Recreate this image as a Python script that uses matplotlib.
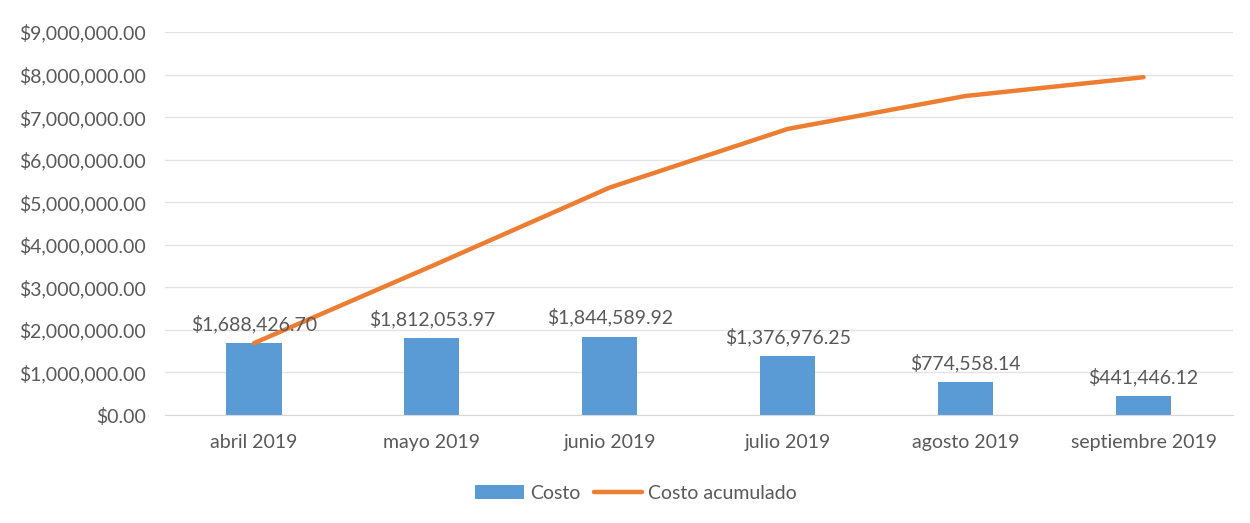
import matplotlib.pyplot as plt
from matplotlib.ticker import FuncFormatter

meses = ["abril 2019", "mayo 2019", "junio 2019", "julio 2019",
         "agosto 2019", "septiembre 2019"]
costo = [1688426.70, 1812053.97, 1844589.92, 1376976.25, 774558.14, 441446.12]
costo_acumulado = [1688426.70, 3500480.67, 5345070.59, 6722046.84,
                   7496604.98, 7938051.10]

plt.rcParams['font.family'] = ['Lato', 'DejaVu Sans']
gris = '#595959'

fig = plt.figure(figsize=(12.5, 5.23), dpi=100)
ax = fig.add_axes([0.132, 0.2065, 0.854, 0.7323])

x = list(range(len(meses)))
barras = ax.bar(x, costo, width=0.31, color='#5B9BD5', label='Costo', zorder=2)
linea, = ax.plot(x, costo_acumulado, color='#ED7D31', linewidth=3.2,
                 label='Costo acumulado', zorder=3, solid_capstyle='round')

for xi, v in zip(x, costo):
    ax.annotate("${:,.2f}".format(v), (xi, v), xytext=(0, 7),
                textcoords='offset points', ha='center', va='bottom',
                fontsize=14, color=gris)

ax.set_xlim(-0.5, len(meses) - 0.5)
ax.set_ylim(0, 9000000)
ax.set_yticks(range(0, 9000001, 1000000))
ax.yaxis.set_major_formatter(FuncFormatter(lambda v, p: "${:,.2f}".format(v)))
ax.set_xticks(x)
ax.set_xticklabels(meses)
ax.tick_params(axis='both', length=0, labelsize=14, colors=gris)
ax.tick_params(axis='x', pad=14)
ax.tick_params(axis='y', pad=14)
ax.grid(axis='y', color='#E3E3E3', linewidth=1, zorder=0)
for s in ['top', 'right', 'left']:
    ax.spines[s].set_visible(False)
ax.spines['bottom'].set_color('#D9D9D9')

leg = fig.legend([barras, linea], ['Costo', 'Costo acumulado'],
                 loc='center', bbox_to_anchor=(0.509, 0.057), ncol=2,
                 frameon=False, fontsize=14, handlelength=2.5,
                 handleheight=0.8, columnspacing=0.7, handletextpad=0.3)
for t in leg.get_texts():
    t.set_color(gris)

fig.savefig('out.png', dpi=100)
